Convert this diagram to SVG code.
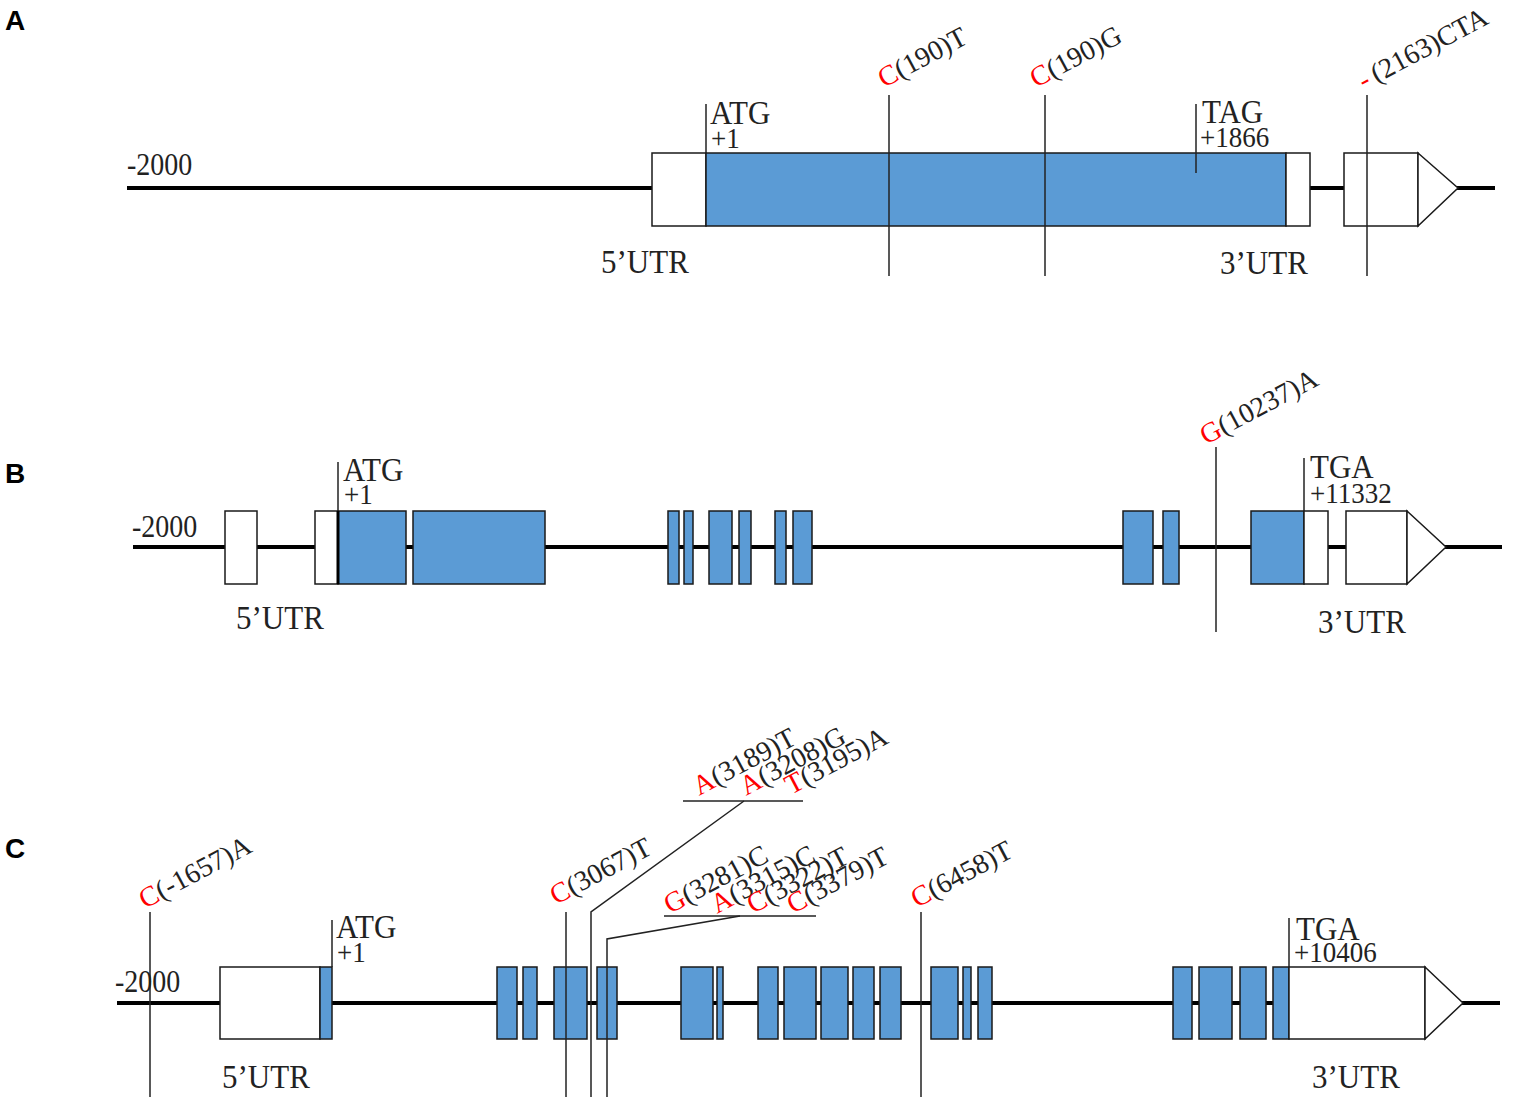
<svg xmlns="http://www.w3.org/2000/svg" width="1520" height="1102" viewBox="0 0 1520 1102">
<style>
.bg{fill:#fff}
.axis{stroke:#000;stroke-width:4;fill:none}
.ex{fill:#5B9BD5;stroke:#1a1a1a;stroke-width:1.5}
.ut{fill:#fff;stroke:#1a1a1a;stroke-width:1.5}
.tk{stroke:#222;stroke-width:1.5;fill:none}
.t{font-family:"Liberation Serif","Times New Roman",serif;fill:#222}
.big{font-size:31px}
.sm{font-size:27px}
.utr{font-size:31px}
.num{font-size:28px}
.lab{font-size:28px}
.r{fill:#f00}
.pl{font-family:"Liberation Sans",Arial,sans-serif;font-weight:bold;font-size:28px;fill:#000}
</style>
<rect class="bg" x="0" y="0" width="1520" height="1102"/>

<!-- Panel A -->
<g id="panelA">
<text class="pl" x="5" y="30">A</text>
<line class="axis" x1="127" y1="188" x2="1495" y2="188"/>
<g id="A-gene">
<rect class="ut" x="652" y="153" width="54" height="73"/>
<rect class="ex" x="706" y="153" width="580" height="73"/>
<rect class="ut" x="1286" y="153" width="24" height="73"/>
<rect class="ut" x="1344" y="153" width="74" height="73"/>
<polygon class="ut" points="1418,153 1458,188 1418,226"/>
</g>
<g id="A-marks">
<line class="tk" x1="706" y1="104" x2="706" y2="153"/>
<line class="tk" x1="1196" y1="104" x2="1196" y2="173"/>
<line class="tk" x1="889" y1="95" x2="889" y2="276"/>
<line class="tk" x1="1045" y1="95" x2="1045" y2="276"/>
<line class="tk" x1="1367" y1="95" x2="1367" y2="276"/>
</g>
<text class="t num" transform="translate(127,175) scale(1,1.1)">-2000</text>
<text class="t big" transform="translate(710,124) scale(1,1.1)">ATG</text>
<text class="t sm" transform="translate(711,148) scale(1,1.1)">+1</text>
<text class="t big" transform="translate(1202,123) scale(1,1.1)">TAG</text>
<text class="t sm" transform="translate(1200,147) scale(1,1.1)">+1866</text>
<text class="t utr" transform="translate(601,273) scale(1,1.1)">5’UTR</text>
<text class="t utr" transform="translate(1220,274) scale(1,1.1)">3’UTR</text>
<text class="t lab" transform="translate(884,88) rotate(-28)"><tspan class="r">C</tspan>(190)T</text>
<text class="t lab" transform="translate(1036,88) rotate(-28)"><tspan class="r">C</tspan>(190)G</text>
<text class="t lab" transform="translate(1364,90) rotate(-28)"><tspan class="r">-</tspan><tspan dx="5">(2163)CTA</tspan></text>
</g>

<!-- Panel B -->
<g id="panelB">
<text class="pl" x="5" y="483">B</text>
<line class="axis" x1="133" y1="547" x2="1502" y2="547"/>
<g id="B-gene">
<rect class="ut" x="225" y="511" width="32" height="73"/>
<rect class="ut" x="315" y="511" width="23" height="73"/>
<rect class="ex" x="338" y="511" width="68" height="73"/>
<rect class="ex" x="413" y="511" width="132" height="73"/>
<rect class="ex" x="668" y="511" width="11" height="73"/>
<rect class="ex" x="684" y="511" width="9" height="73"/>
<rect class="ex" x="709" y="511" width="23" height="73"/>
<rect class="ex" x="739" y="511" width="12" height="73"/>
<rect class="ex" x="775" y="511" width="11" height="73"/>
<rect class="ex" x="793" y="511" width="19" height="73"/>
<rect class="ex" x="1123" y="511" width="30" height="73"/>
<rect class="ex" x="1163" y="511" width="16" height="73"/>
<rect class="ex" x="1251" y="511" width="53" height="73"/>
<rect class="ut" x="1304" y="511" width="24" height="73"/>
<rect class="ut" x="1346" y="511" width="61" height="73"/>
<polygon class="ut" points="1407,511 1446,547 1407,584"/>
</g>
<g id="B-marks">
<line class="tk" x1="338" y1="462" x2="338" y2="511"/>
<line x1="338" y1="511" x2="338" y2="584" stroke="#000" stroke-width="3"/>
<line class="tk" x1="1304" y1="458" x2="1304" y2="511"/>
<line class="tk" x1="1216" y1="447" x2="1216" y2="632"/>
</g>
<text class="t num" transform="translate(132,537) scale(1,1.1)">-2000</text>
<text class="t big" transform="translate(343,481) scale(1,1.1)">ATG</text>
<text class="t sm" transform="translate(344,504) scale(1,1.1)">+1</text>
<text class="t big" transform="translate(1310,478) scale(1,1.1)">TGA</text>
<text class="t sm" transform="translate(1310,503) scale(1,1.1)">+11332</text>
<text class="t utr" transform="translate(236,629) scale(1,1.1)">5’UTR</text>
<text class="t utr" transform="translate(1318,633) scale(1,1.1)">3’UTR</text>
<text class="t lab" transform="translate(1206,445) rotate(-28)"><tspan class="r">G</tspan>(10237)A</text>
</g>

<!-- Panel C -->
<g id="panelC">
<text class="pl" x="5" y="858">C</text>
<line class="axis" x1="117" y1="1003" x2="1500" y2="1003"/>
<g id="C-gene">
<rect class="ut" x="220" y="967" width="100" height="72"/>
<rect class="ex" x="320" y="967" width="12" height="72"/>
<rect class="ex" x="497" y="967" width="20" height="72"/>
<rect class="ex" x="523" y="967" width="14" height="72"/>
<rect class="ex" x="554" y="967" width="33" height="72"/>
<rect class="ex" x="597" y="967" width="20" height="72"/>
<rect class="ex" x="681" y="967" width="32" height="72"/>
<rect class="ex" x="717" y="967" width="6" height="72"/>
<rect class="ex" x="758" y="967" width="20" height="72"/>
<rect class="ex" x="784" y="967" width="32" height="72"/>
<rect class="ex" x="821" y="967" width="27" height="72"/>
<rect class="ex" x="853" y="967" width="21" height="72"/>
<rect class="ex" x="880" y="967" width="21" height="72"/>
<rect class="ex" x="931" y="967" width="27" height="72"/>
<rect class="ex" x="963" y="967" width="8" height="72"/>
<rect class="ex" x="978" y="967" width="14" height="72"/>
<rect class="ex" x="1173" y="967" width="19" height="72"/>
<rect class="ex" x="1199" y="967" width="33" height="72"/>
<rect class="ex" x="1240" y="967" width="26" height="72"/>
<rect class="ex" x="1273" y="967" width="16" height="72"/>
<rect class="ut" x="1289" y="967" width="136" height="72"/>
<polygon class="ut" points="1425,967 1463,1003 1425,1039"/>
</g>
<g id="C-marks">
<line class="tk" x1="332" y1="920" x2="332" y2="967"/>
<line class="tk" x1="1289" y1="918" x2="1289" y2="967"/>
<line class="tk" x1="150" y1="912" x2="150" y2="1097"/>
<line class="tk" x1="566" y1="912" x2="566" y2="1097"/>
<polyline class="tk" points="591,1097 591,912 744,801"/>
<line class="tk" x1="683" y1="801" x2="803" y2="801"/>
<polyline class="tk" points="607,1097 607,939 740,916"/>
<line class="tk" x1="664" y1="916" x2="816" y2="916"/>
<line class="tk" x1="921" y1="912" x2="921" y2="1097"/>
</g>
<text class="t num" transform="translate(115,992) scale(1,1.1)">-2000</text>
<text class="t big" transform="translate(336,938) scale(1,1.1)">ATG</text>
<text class="t sm" transform="translate(337,962) scale(1,1.1)">+1</text>
<text class="t big" transform="translate(1296,940) scale(1,1.1)">TGA</text>
<text class="t sm" transform="translate(1294,962) scale(1,1.1)">+10406</text>
<text class="t utr" transform="translate(222,1088) scale(1,1.1)">5’UTR</text>
<text class="t utr" transform="translate(1312,1088) scale(1,1.1)">3’UTR</text>
<text class="t lab" transform="translate(145,909) rotate(-28)"><tspan class="r">C</tspan>(-1657)A</text>
<text class="t lab" transform="translate(556,905) rotate(-28)"><tspan class="r">C</tspan>(3067)T</text>
<text class="t lab" transform="translate(699,796) rotate(-28)"><tspan class="r">A</tspan>(3189)T</text>
<text class="t lab" transform="translate(746,796) rotate(-28)"><tspan class="r">A</tspan>(3208)G</text>
<text class="t lab" transform="translate(791,795) rotate(-28)"><tspan class="r">T</tspan>(3195)A</text>
<text class="t lab" transform="translate(670,914) rotate(-28)"><tspan class="r">G</tspan>(3281)C</text>
<text class="t lab" transform="translate(717,914) rotate(-28)"><tspan class="r">A</tspan>(3315)C</text>
<text class="t lab" transform="translate(753,914) rotate(-28)"><tspan class="r">C</tspan>(3322)T</text>
<text class="t lab" transform="translate(793,914) rotate(-28)"><tspan class="r">C</tspan>(3379)T</text>
<text class="t lab" transform="translate(917,908) rotate(-28)"><tspan class="r">C</tspan>(6458)T</text>
</g>
</svg>
